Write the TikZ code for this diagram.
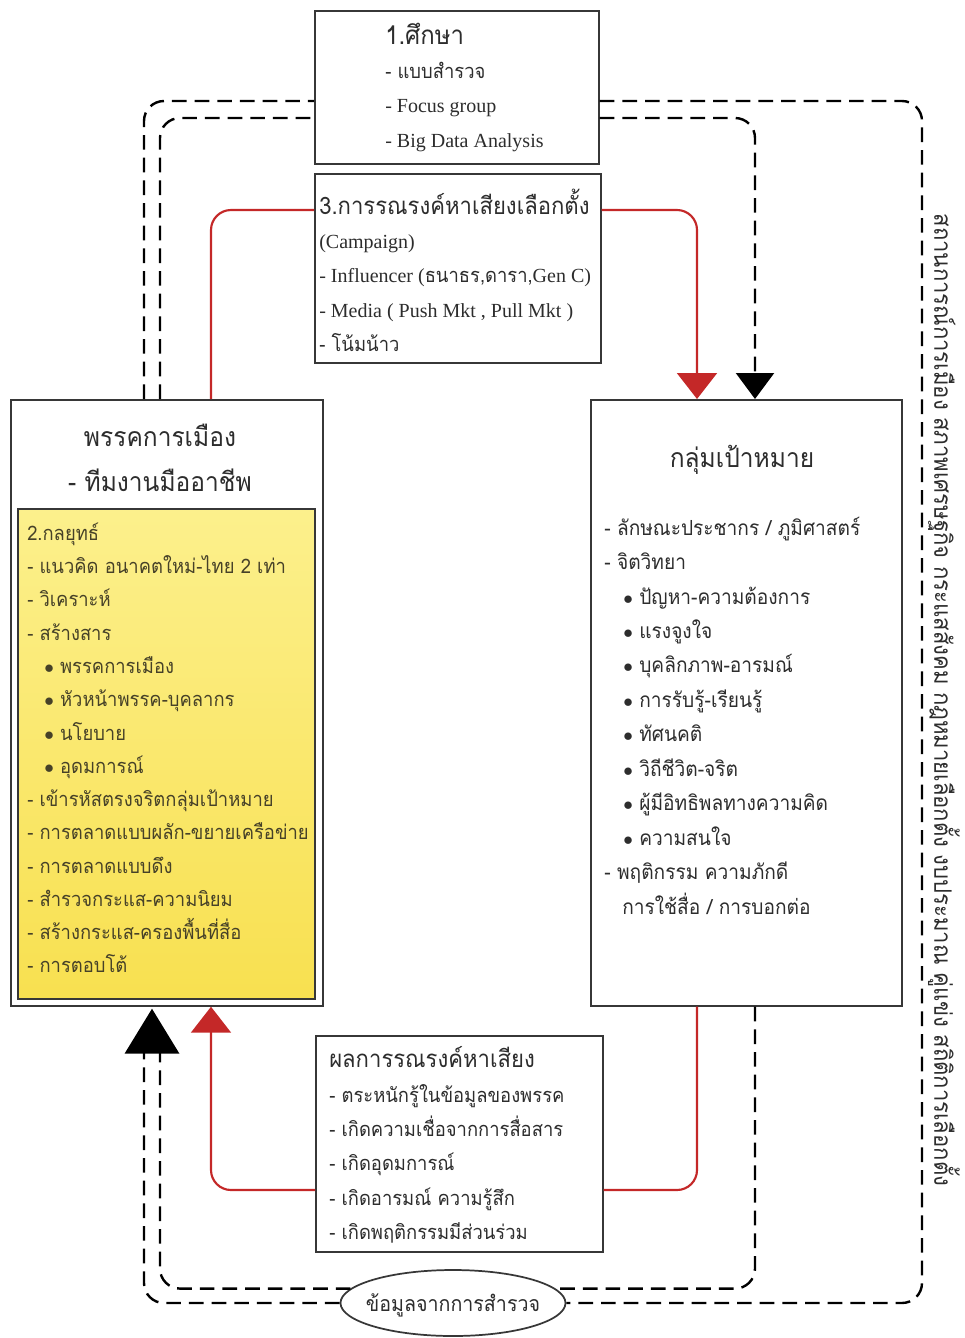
\documentclass[tikz,border=0pt]{standalone}
\usepackage{fontspec}
\setmainfont{Loma}[Script=Thai,FakeStretch=0.92]
\newfontfamily\thaif{Loma}[Script=Thai,FakeStretch=0.92]
\newfontfamily\lat{Liberation Serif}
\usetikzlibrary{arrows.meta,shapes.geometric}
\definecolor{redl}{RGB}{196,40,40}
\definecolor{reda}{RGB}{185,25,30}
\definecolor{txt}{RGB}{45,45,45}
\definecolor{ytxt}{RGB}{70,65,40}
\definecolor{ytop}{RGB}{252,240,140}
\definecolor{ybot}{RGB}{248,224,80}
\definecolor{boxl}{RGB}{55,55,55}
\begin{document}
\begin{tikzpicture}[x=0.75pt,y=-0.75pt,
  box/.style={draw=boxl, line width=1.3pt, fill=white, inner sep=0pt, anchor=north west},
  dashline/.style={line width=1.8pt, dash pattern=on 11pt off 6pt, rounded corners=15pt},
  redline/.style={draw=redl, line width=1.6pt, rounded corners=15pt},
  tl/.style={anchor=base west, inner sep=0pt, text=txt, font=\fontsize{15}{18}\selectfont},
  tg/.style={tl, font=\fontsize{15.6}{18}\selectfont},
  yl/.style={tl, text=ytxt},
  ttl/.style={anchor=base, inner sep=0pt, text=txt, font=\fontsize{20}{24}\selectfont},
  hd/.style={tl, font=\fontsize{19.5}{22}\selectfont},
  ll/.style={tl, font=\fontsize{15}{18}\lat},
  redtip/.style={-{Triangle[width=40*0.75pt,length=26*0.75pt]}},
  blktip/.style={-{Triangle[width=38*0.75pt,length=26*0.75pt]}}
]
\useasboundingbox (0,0) rectangle (964,1338);
\fill[white] (0,0) rectangle (964,1338);

% boxes
\node[box, minimum width=284*0.75pt, minimum height=153*0.75pt] (study) at (314,10) {};
\node[box, minimum width=286*0.75pt, minimum height=189*0.75pt] (camp) at (314,173) {};
\node[box, minimum width=312*0.75pt, minimum height=606*0.75pt] (party) at (10,399) {};
\node[box, top color=ytop, bottom color=ybot, minimum width=297*0.75pt, minimum height=490*0.75pt] (strat) at (17,508) {};
\node[box, minimum width=311*0.75pt, minimum height=606*0.75pt] (target) at (590,399) {};
\node[box, minimum width=287*0.75pt, minimum height=216*0.75pt] (result) at (315,1035) {};
\node[ellipse, draw=boxl, line width=1.3pt, fill=white, minimum width=225*0.75pt, minimum height=66*0.75pt, inner sep=0pt] (survey) at (453,1303) {};
\node[anchor=base, inner sep=0pt, text=txt, font=\fontsize{16}{19}\selectfont] (surveytxt) at (453,1311) {ข้อมูลจากการสำรวจ};

% helper coordinates
\coordinate (xo) at (144,0);
\coordinate (xi) at (160,0);
\coordinate (xor) at (922,0);
\coordinate (xir) at (755,0);
\coordinate (yo) at (0,101);
\coordinate (yi) at (0,118);
\coordinate (yab) at (0,1043);
\coordinate (xrl) at (211,0);
\coordinate (xrr) at (697,0);
\coordinate (yrt) at (0,210);
\coordinate (yrb) at (0,1190);
\coordinate (xab) at (152,0);

% dashed loops
\draw[dashline] (party.north -| xo) |- (study.west |- yo);
\draw[dashline] (party.north -| xi) |- (study.west |- yi);
\draw[dashline] (study.east |- yo) -| (xor |- survey.east) -- (survey.east);
\draw[dashline, blktip] (study.east |- yi) -| (target.north -| xir);
\draw[dashline] (target.south -| xir) |- (survey.8);
\draw[dashline] (survey.west) -| (xo |- yab);
\draw[dashline] (survey.172) -| (xi |- yab);
\coordinate (lt) at (party.south -| xab);
\fill[black] ([yshift=-1.5pt]lt) -- ++(-27.5,45) -- ++(55,0) -- cycle;

% red connectors
\draw[redline] (camp.west |- yrt) -| (party.north -| xrl);
\draw[redline, redtip] (camp.east |- yrt) -| (target.north -| xrr);
\draw[redline] (target.south -| xrr) |- (result.east |- yrb);
\draw[redline, redtip] (result.west |- yrb) -| (party.south -| xrl);

% study text
\node[hd] (s0) at (385,45) {1.ศึกษา};
\node[tl] (s1) at (385,79) {- แบบสำรวจ};
\node[ll] (s2) at (385,113) {- Focus group};
\node[ll] (s3) at (385,147) {- Big Data Analysis};

% campaign text
\node[tl, font=\fontsize{18}{22}\selectfont] (c0) at (319,214) {3.การรณรงค์หาเสียงเลือกตั้ง};
\node[ll] (c1) at (319,248) {(Campaign)};
\node[ll] (c2) at (319,282) {- Influencer ({\thaif ธนาธร,ดารา,}Gen C)};
\node[ll] (c3) at (319,317) {- Media ( Push Mkt , Pull Mkt )};
\node[tl] (c4) at (319,351) {- โน้มน้าว};

% party text
\node[ttl] (p0) at (160,446) {พรรคการเมือง};
\node[ttl] (p1) at (160,491) {- ทีมงานมืออาชีพ};

% strategy text
\node[yl] (g0) at (27,540) {2.กลยุทธ์};
\node[yl] (g1) at (27,573) {- แนวคิด อนาคตใหม่-ไทย 2 เท่า};
\node[yl] (g2) at (27,606) {- วิเคราะห์};
\node[yl] (g3) at (27,640) {- สร้างสาร};
\node[yl] (g4) at (44,673) {$\bullet$\ พรรคการเมือง};
\node[yl] (g5) at (44,706) {$\bullet$\ หัวหน้าพรรค-บุคลากร};
\node[yl] (g6) at (44,740) {$\bullet$\ นโยบาย};
\node[yl] (g7) at (44,773) {$\bullet$\ อุดมการณ์};
\node[yl] (g8) at (27,806) {- เข้ารหัสตรงจริตกลุ่มเป้าหมาย};
\node[yl] (g9) at (27,839) {- การตลาดแบบผลัก-ขยายเครือข่าย};
\node[yl] (g10) at (27,873) {- การตลาดแบบดึง};
\node[yl] (g11) at (27,906) {- สำรวจกระแส-ความนิยม};
\node[yl] (g12) at (27,939) {- สร้างกระแส-ครองพื้นที่สื่อ};
\node[yl] (g13) at (27,972) {- การตอบโต้};

% target text
\node[ttl] (t0) at (742,467) {กลุ่มเป้าหมาย};
\node[tg] (t1) at (604,535) {- ลักษณะประชากร / ภูมิศาสตร์};
\node[tg] (t2) at (604,569) {- จิตวิทยา};
\node[tg] (t3) at (623,604) {$\bullet$\ ปัญหา-ความต้องการ};
\node[tg] (t4) at (623,638) {$\bullet$\ แรงจูงใจ};
\node[tg] (t5) at (623,672) {$\bullet$\ บุคลิกภาพ-อารมณ์};
\node[tg] (t6) at (623,707) {$\bullet$\ การรับรู้-เรียนรู้};
\node[tg] (t7) at (623,741) {$\bullet$\ ทัศนคติ};
\node[tg] (t8) at (623,776) {$\bullet$\ วิถีชีวิต-จริต};
\node[tg] (t9) at (623,810) {$\bullet$\ ผู้มีอิทธิพลทางความคิด};
\node[tg] (t10) at (623,845) {$\bullet$\ ความสนใจ};
\node[tg] (t11) at (604,879) {- พฤติกรรม ความภักดี};
\node[tg] (t12) at (622,914) {การใช้สื่อ / การบอกต่อ};

% result text
\node[tl, font=\fontsize{18}{21}\selectfont] (r0) at (329,1067) {ผลการรณรงค์หาเสียง};
\node[tl] (r1) at (329,1102) {- ตระหนักรู้ในข้อมูลของพรรค};
\node[tl] (r2) at (329,1136) {- เกิดความเชื่อจากการสื่อสาร};
\node[tl] (r3) at (329,1170) {- เกิดอุดมการณ์};
\node[tl] (r4) at (329,1205) {- เกิดอารมณ์ ความรู้สึก};
\node[tl] (r5) at (329,1239) {- เกิดพฤติกรรมมีส่วนร่วม};

% environment text
\node[anchor=center, inner sep=0pt, rotate=-90, text=txt, font=\fontsize{18}{21}\selectfont] (env) at (944,700)
  {สถานการณ์การเมือง สภาพเศรษฐกิจ กระแสสังคม กฎหมายเลือกตั้ง งบประมาณ คู่แข่ง สถิติการเลือกตั้ง};
\end{tikzpicture}
\end{document}
